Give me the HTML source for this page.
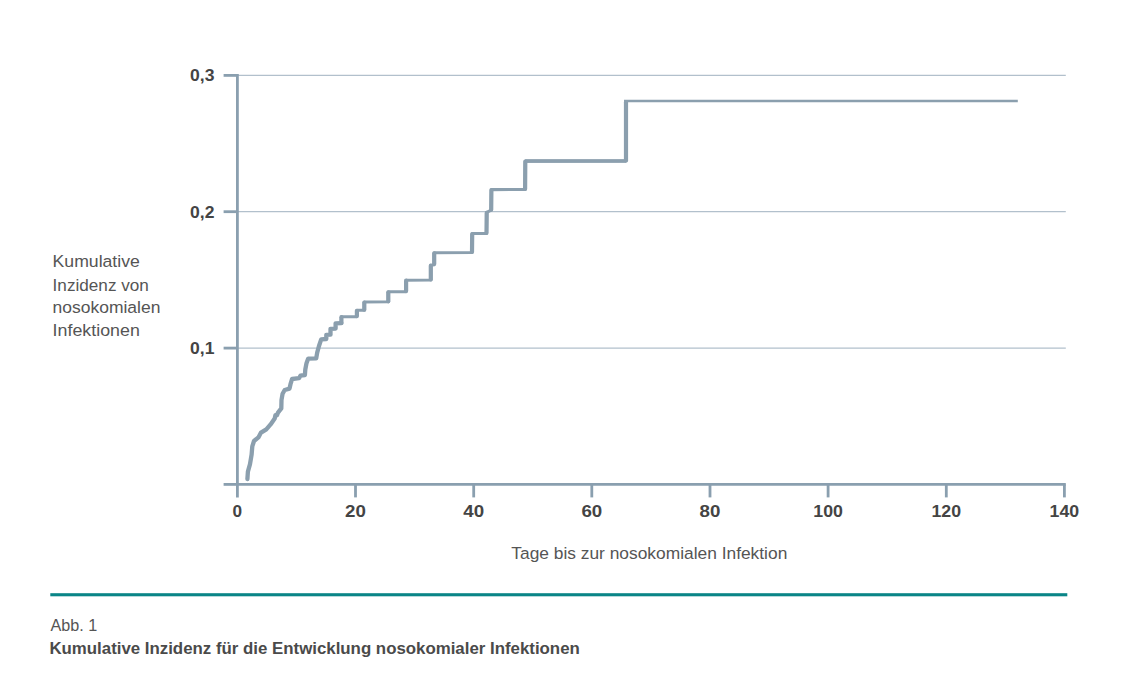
<!DOCTYPE html>
<html lang="de">
<head>
<meta charset="utf-8">
<title>Abb. 1 – Kumulative Inzidenz für die Entwicklung nosokomialer Infektionen</title>
<style>
html,body{margin:0;padding:0;background:#fff;}
body{width:1140px;height:678px;overflow:hidden;}
svg{display:block;}
text{font-family:"Liberation Sans",sans-serif;}
.lab{font-size:16.8px;fill:#555555;}
.tick{font-size:15.8px;font-weight:bold;fill:#444444;}
.cap{font-size:17px;fill:#555555;}
.capb{font-size:16.3px;font-weight:bold;fill:#4a4a4a;}
</style>
</head>
<body>
<svg width="1140" height="678" viewBox="0 0 1140 678">
<rect width="1140" height="678" fill="#ffffff"/>

<g id="grid">
<line x1="237.4" y1="348.1" x2="1065.8" y2="348.1" stroke="#b2c0cc" stroke-width="1.2"/>
<line x1="237.4" y1="211.7" x2="1065.8" y2="211.7" stroke="#b2c0cc" stroke-width="1.2"/>
<line x1="237.4" y1="75.4" x2="1065.8" y2="75.4" stroke="#b2c0cc" stroke-width="1.2"/>
</g>
<g id="axes">
<line x1="223.6" y1="484.4" x2="237.4" y2="484.4" stroke="#8a9faf" stroke-width="2.8"/>
<line x1="223.6" y1="348.1" x2="237.4" y2="348.1" stroke="#8a9faf" stroke-width="2.8"/>
<line x1="223.6" y1="211.7" x2="237.4" y2="211.7" stroke="#8a9faf" stroke-width="2.8"/>
<line x1="223.6" y1="75.4" x2="237.4" y2="75.4" stroke="#8a9faf" stroke-width="2.8"/>
<line x1="237.4" y1="74.0" x2="237.4" y2="497.4" stroke="#8a9faf" stroke-width="2.8"/>
<line x1="237.4" y1="484.4" x2="1065.8" y2="484.4" stroke="#8a9faf" stroke-width="2.9"/>
<line x1="355.5" y1="484.4" x2="355.5" y2="497.4" stroke="#8a9faf" stroke-width="2.8"/>
<line x1="473.7" y1="484.4" x2="473.7" y2="497.4" stroke="#8a9faf" stroke-width="2.8"/>
<line x1="591.8" y1="484.4" x2="591.8" y2="497.4" stroke="#8a9faf" stroke-width="2.8"/>
<line x1="710.0" y1="484.4" x2="710.0" y2="497.4" stroke="#8a9faf" stroke-width="2.8"/>
<line x1="828.1" y1="484.4" x2="828.1" y2="497.4" stroke="#8a9faf" stroke-width="2.8"/>
<line x1="946.3" y1="484.4" x2="946.3" y2="497.4" stroke="#8a9faf" stroke-width="2.8"/>
<line x1="1064.4" y1="484.4" x2="1064.4" y2="497.4" stroke="#8a9faf" stroke-width="2.8"/>
</g>
<g id="curve" fill="none" stroke="#8b9fae" stroke-linejoin="round">
<polyline points="247.4,479.0 247.9,471.6 250.0,464.2 251.6,454.7 252.3,446.3 254.0,441.0 258.4,437.4 261.0,432.6 266.3,429.3 270.6,424.4 274.7,418.6 275.4,415.2 277.0,415.3 278.0,412.6 281.3,408.4 281.5,400.0 282.6,393.7 284.7,390.0 289.5,388.6 290.5,384.2 292.1,379.0 299.0,378.2 300.5,375.6 304.9,375.0 305.3,369.5 306.5,363.2 308.2,358.6 316.2,358.3 317.2,352.6 318.9,346.3 321.2,339.4 326.3,339.0 326.3,334.8 330.5,334.7 330.5,328.8 335.6,328.6 335.6,323.3 341.4,323.2" stroke-width="4.3" stroke-linecap="round"/>
<polyline points="341.4,323.2 341.4,316.7 356.9,316.6 356.9,310.3 364.3,310.2 364.3,302.0 388.3,301.8 388.3,291.8 406.1,291.6 406.1,280.2 430.8,280.0 430.8,265.2 434.2,264.6 434.2,252.8 472.0,252.5 472.2,233.5 486.5,233.4 486.7,212.4 491.2,210.2 491.4,189.6 525.1,189.4 525.3,161.1 626.0,161.0 626.0,102.0" stroke-width="3.1" stroke-linecap="round"/>
<line x1="341.4" y1="322.7" x2="341.4" y2="317.2" stroke-width="4.2" stroke-linecap="round"/>
<line x1="356.9" y1="316.1" x2="356.9" y2="310.8" stroke-width="4.2" stroke-linecap="round"/>
<line x1="364.3" y1="309.7" x2="364.3" y2="302.5" stroke-width="4.2" stroke-linecap="round"/>
<line x1="388.3" y1="301.3" x2="388.3" y2="292.3" stroke-width="4.2" stroke-linecap="round"/>
<line x1="406.1" y1="291.1" x2="406.1" y2="280.7" stroke-width="4.2" stroke-linecap="round"/>
<line x1="430.8" y1="279.5" x2="430.8" y2="265.7" stroke-width="4.2" stroke-linecap="round"/>
<line x1="434.2" y1="264.1" x2="434.2" y2="253.3" stroke-width="4.2" stroke-linecap="round"/>
<line x1="472.0" y1="252.0" x2="472.2" y2="234.0" stroke-width="4.2" stroke-linecap="round"/>
<line x1="486.5" y1="232.9" x2="486.7" y2="212.9" stroke-width="4.2" stroke-linecap="round"/>
<line x1="491.2" y1="209.7" x2="491.4" y2="190.1" stroke-width="4.2" stroke-linecap="round"/>
<line x1="525.1" y1="188.9" x2="525.3" y2="161.6" stroke-width="4.2" stroke-linecap="round"/>
<line x1="626.0" y1="160.5" x2="626.0" y2="102.5" stroke-width="4.2" stroke-linecap="round"/>
<line x1="525.3" y1="161.05" x2="626" y2="161.05" stroke-width="3.4"/>
<line x1="624" y1="101" x2="1017.8" y2="101" stroke-width="2.4"/>
</g>
<g id="ylabels">
<text class="tick" x="190.0" y="354.1" textLength="24.4" lengthAdjust="spacingAndGlyphs">0,1</text>
<text class="tick" x="190.0" y="217.7" textLength="24.4" lengthAdjust="spacingAndGlyphs">0,2</text>
<text class="tick" x="190.0" y="81.4" textLength="24.4" lengthAdjust="spacingAndGlyphs">0,3</text>
</g>
<g id="xlabels">
<text class="tick" x="232.6" y="516.6" textLength="9.6" lengthAdjust="spacingAndGlyphs">0</text>
<text class="tick" x="345.1" y="516.6" textLength="20.8" lengthAdjust="spacingAndGlyphs">20</text>
<text class="tick" x="463.3" y="516.6" textLength="20.8" lengthAdjust="spacingAndGlyphs">40</text>
<text class="tick" x="581.4" y="516.6" textLength="20.8" lengthAdjust="spacingAndGlyphs">60</text>
<text class="tick" x="699.6" y="516.6" textLength="20.8" lengthAdjust="spacingAndGlyphs">80</text>
<text class="tick" x="813.3" y="516.6" textLength="29.6" lengthAdjust="spacingAndGlyphs">100</text>
<text class="tick" x="931.5" y="516.6" textLength="29.6" lengthAdjust="spacingAndGlyphs">120</text>
<text class="tick" x="1049.6" y="516.6" textLength="29.6" lengthAdjust="spacingAndGlyphs">140</text>
</g>
<g id="titles">
<text class="lab" x="52.6" y="267.3" textLength="87.2" lengthAdjust="spacingAndGlyphs">Kumulative</text>
<text class="lab" x="52.6" y="290.6" textLength="96.3" lengthAdjust="spacingAndGlyphs">Inzidenz von</text>
<text class="lab" x="52.6" y="313.3" textLength="107.8" lengthAdjust="spacingAndGlyphs">nosokomialen</text>
<text class="lab" x="52.6" y="336.2" textLength="87.2" lengthAdjust="spacingAndGlyphs">Infektionen</text>
<text class="lab" x="511.3" y="558.9" textLength="276.0" lengthAdjust="spacingAndGlyphs">Tage bis zur nosokomialen Infektion</text>
</g>
<rect x="50.3" y="593.2" width="1017" height="3.1" fill="#0a8587"/>
<text class="cap" x="50.5" y="631" textLength="46.8" lengthAdjust="spacingAndGlyphs">Abb. 1</text>
<text class="capb" x="49.4" y="654.4" textLength="530.4" lengthAdjust="spacingAndGlyphs">Kumulative Inzidenz für die Entwicklung nosokomialer Infektionen</text>
</svg>
</body>
</html>
